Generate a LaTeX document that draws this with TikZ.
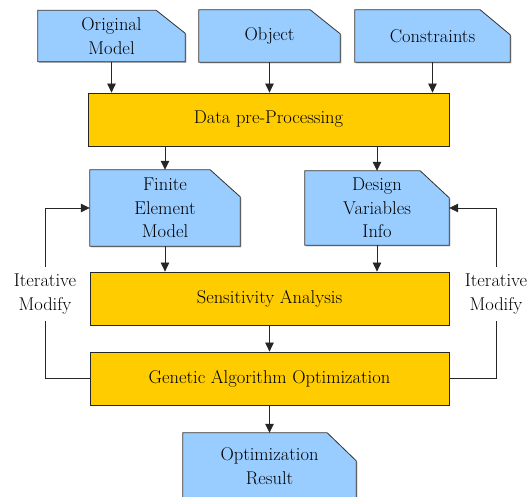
\documentclass[tikz,border=0pt]{standalone}
\usetikzlibrary{arrows.meta,backgrounds,shadows}
\definecolor{cardblue}{HTML}{99CCFF}
\definecolor{procgold}{HTML}{FFCC00}
\begin{document}
\begin{tikzpicture}[x=1pt,y=-1pt,
  every node/.style={font=\fontsize{18.5}{23.5}\selectfont, align=center, inner sep=0pt},
  card/.style 2 args={minimum width=#1, minimum height=#2},
  cardline/.style={draw=black!80, line width=0.8pt, fill=cardblue,
    drop shadow={shadow xshift=1.2pt, shadow yshift=-1.2pt, opacity=0.5, fill=black!60}},
  proc/.style 2 args={draw=black!85, line width=0.8pt, fill=procgold,
    minimum width=#1, minimum height=#2,
    drop shadow={shadow xshift=1.2pt, shadow yshift=-1.2pt, opacity=0.5, fill=black!60}},
  sidelabel/.style={inner xsep=1pt, inner ysep=7pt},
  conn/.style={draw=black!85, line width=0.8pt},
  arr/.style={conn, -{Triangle[length=9pt,width=8.5pt]}}]

\useasboundingbox (0,0) rectangle (531,497);

% input data cards
\node[card={147}{51}] (om) at (111.5,36) {Original\\Model};
\node[card={141}{52}] (ob) at (269.5,36) {Object};
\node[card={155}{52}] (co) at (432.5,36) {Constraints};

% process blocks
\node[proc={361}{53}] (data) at (268.5,119.5) {Data pre-Processing};
\node[card={150}{76}] (fem) at (165,208) {Finite\\Element\\Model};
\node[card={144}{74}] (dvi) at (377,208) {Design\\Variables\\Info};
\node[proc={359}{53}] (sens) at (269.5,298.5) {Sensitivity Analysis};
\node[proc={359}{53}] (ga) at (269.5,378.5) {Genetic Algorithm Optimization};
\node[card={173}{66}] (res) at (269.5,466) {Optimization\\Result};

% feedback labels
\node[sidelabel] (itl) at (45,294) {Iterative\\Modify};
\node[sidelabel] (itr) at (496,294) {Iterative\\Modify};

% card outlines with the cut top-right corner
\begin{scope}[on background layer]
  \foreach \n/\dx/\dy in {om/29/23, ob/30/24, co/30/25, fem/30/27, dvi/29/27, res/29/28}
    \path[cardline] (\n.south west) -- (\n.north west)
      -- ([xshift=-\dx pt]\n.north east) -- ([yshift=-\dy pt]\n.north east)
      -- (\n.south east) -- cycle;
\end{scope}

% main flow
\draw[arr] (om.south) -- (om.south |- data.north);
\draw[arr] (ob.south) -- (ob.south |- data.north);
\draw[arr] (co.south) -- (co.south |- data.north);
\draw[arr] (data.south -| fem.north) -- (fem.north);
\draw[arr] (data.south -| dvi.north) -- (dvi.north);
\draw[arr] (fem.south) -- (fem.south |- sens.north);
\draw[arr] (dvi.south) -- (dvi.south |- sens.north);
\draw[arr] (sens.south) -- (ga.north);
\draw[arr] (ga.south) -- (res.north);

% iteration loops
\draw[conn] (ga.west) -| (itl.south);
\draw[arr] (itl.north) |- (fem.west);
\draw[conn] (ga.east) -| (itr.south);
\draw[arr] (itr.north) |- (dvi.east);
\end{tikzpicture}
\end{document}
